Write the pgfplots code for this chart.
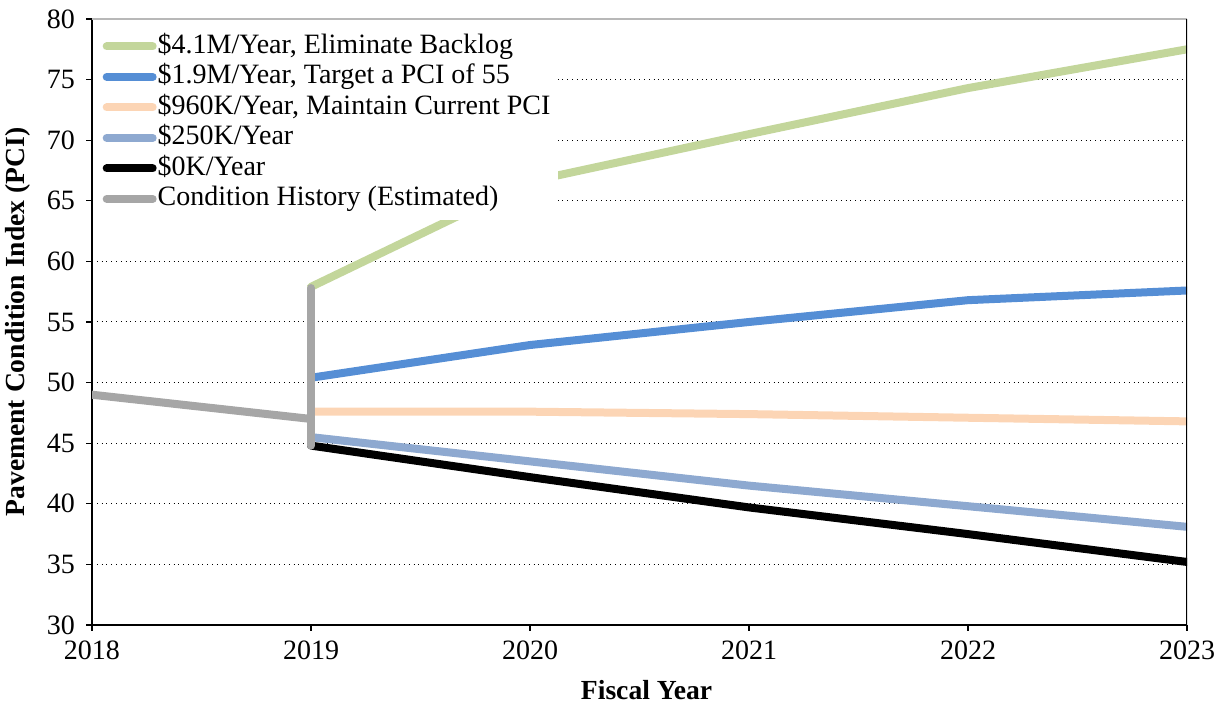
\documentclass[border=0pt]{standalone}
\usepackage{fontspec}
\setmainfont{Liberation Serif}
\usepackage{pgfplots}
\pgfplotsset{compat=1.18}
\definecolor{cgreen}{HTML}{C3D69B}
\definecolor{cblue}{HTML}{558ED5}
\definecolor{cpeach}{HTML}{FCD5B5}
\definecolor{clblue}{HTML}{8EA9D0}
\definecolor{cgray}{HTML}{A6A6A6}
\begin{document}
\begin{tikzpicture}
\begin{axis}[
  at={(0,0)}, anchor=south west,
  scale only axis, width=547.5pt, height=303pt,
  xmin=2018, xmax=2023, ymin=30, ymax=80,
  xtick={2018,2019,2020,2021,2022,2023},
  ytick={30,35,40,45,50,55,60,65,70,75,80},
  /pgf/number format/assume math mode=true,
  /pgf/number format/1000 sep={},
  axis x line*=bottom, axis y line*=left,
  axis line style={black, line width=1.3pt, -},
  tick align=outside,
  major tick length=3pt,
  tick style={black, line width=0.6pt},
  ymajorgrids,
  major grid style={dotted, black, line width=0.5pt},
  tick label style={font=\fontsize{14}{16}\selectfont},
  yticklabel style={xshift=-2pt},
  xticklabel style={yshift=-1.5pt},
  label style={font=\fontsize{13.8}{16}\selectfont\bfseries},
  xlabel={Fiscal Year},
  ylabel={Pavement Condition Index (PCI)},
  xlabel style={at={([xshift=3.5pt,yshift=-32.5pt]axis description cs:0.5,0)}, anchor=center},
  ylabel style={at={([xshift=-37pt]axis description cs:0,0.5)}, anchor=center, rotate=0},
  legend cell align=left,
  legend image code/.code={\draw[#1, line cap=round] (0pt,0pt) -- (23pt,0pt);},
  legend style={at={(rel axis cs:0.003,0.99)}, anchor=north west,
    draw=none, fill=white, font=\fontsize{14}{16}\selectfont,
    inner xsep=3.5pt, inner ysep=3.5pt, row sep=1.25pt,
    nodes={inner sep=0.5pt, text height=10pt, text depth=3pt}},
  every axis plot/.append style={line width=4pt, line cap=round, line join=round},
]
\addplot[cgreen] coordinates {(2019,57.9) (2020,66.6) (2021,70.5) (2022,74.3) (2023,77.5)};
\addlegendentry{\$4.1M/Year, Eliminate Backlog}
\addplot[cblue] coordinates {(2019,50.4) (2020,53.1) (2021,55.0) (2022,56.8) (2023,57.6)};
\addlegendentry{\$1.9M/Year, Target a PCI of 55}
\addplot[cpeach] coordinates {(2019,47.6) (2020,47.6) (2021,47.4) (2022,47.1) (2023,46.8)};
\addlegendentry{\$960K/Year, Maintain Current PCI}
\addplot[clblue] coordinates {(2019,45.5) (2020,43.5) (2021,41.5) (2022,39.8) (2023,38.1)};
\addlegendentry{\$250K/Year}
\addplot[black] coordinates {(2019,44.8) (2020,42.2) (2021,39.7) (2022,37.5) (2023,35.2)};
\addlegendentry{\$0K/Year}
\addplot[cgray] coordinates {(2018,49.0) (2019,47.0)};
\addlegendentry{Condition History (Estimated)}
\addplot[cgray, forget plot] coordinates {(2019,44.8) (2019,57.8)};
\draw[cgray!80, line width=0.8pt] (rel axis cs:0,1) -- (rel axis cs:1,1);
\draw[black, line width=1.3pt] (rel axis cs:1,0) -- (rel axis cs:1,1);
\end{axis}
\pgfresetboundingbox
\path[use as bounding box] (-46pt,-39.5pt) rectangle (563.5pt,312.5pt);
\end{tikzpicture}
\end{document}
